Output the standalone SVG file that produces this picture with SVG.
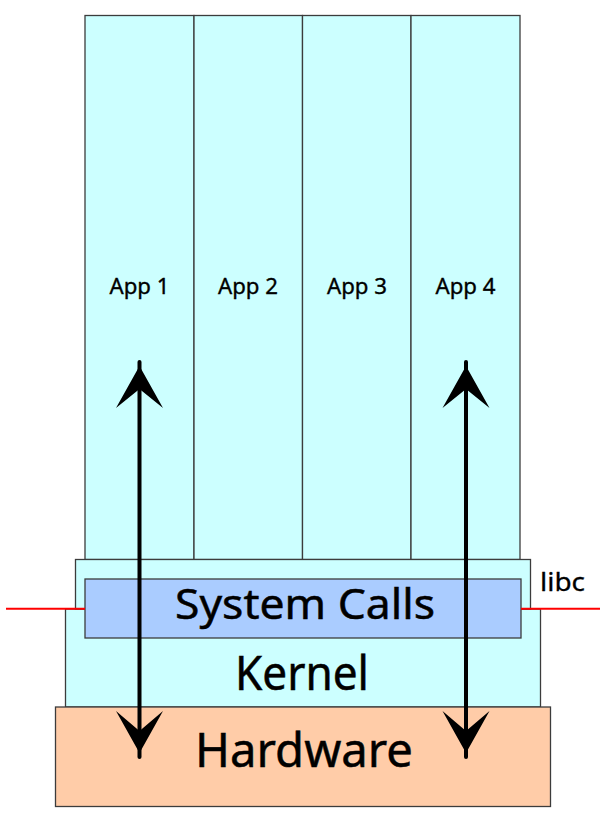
<svg xmlns="http://www.w3.org/2000/svg" width="600" height="819" viewBox="0 0 600 819">
<style>
.box{stroke:#3c3c3c;stroke-width:1.3}
.cyan{fill:#ccffff}
.lbl{font-family:"Noto Sans","Open Sans","DejaVu Sans",sans-serif;fill:#000;text-anchor:middle;stroke:#000;stroke-width:0.35}
.app{font-size:21.5px}
.big{stroke-width:0.5}
.red{stroke:#ff0000;stroke-width:2}
.arr{stroke:#000;stroke-width:4;stroke-linecap:round;fill:none}
.head{fill:#000}
</style>
<rect width="600" height="819" fill="#ffffff"/>
<g id="app1"><rect class="box cyan" x="85" y="15.5" width="109" height="544"/><text class="lbl app" x="139.5" y="293.5" textLength="60" lengthAdjust="spacingAndGlyphs">App 1</text></g>
<g id="app2"><rect class="box cyan" x="194" y="15.5" width="108.5" height="544"/><text class="lbl app" x="248" y="293.5" textLength="60" lengthAdjust="spacingAndGlyphs">App 2</text></g>
<g id="app3"><rect class="box cyan" x="302.5" y="15.5" width="108.5" height="544"/><text class="lbl app" x="357" y="293.5" textLength="60" lengthAdjust="spacingAndGlyphs">App 3</text></g>
<g id="app4"><rect class="box cyan" x="411" y="15.5" width="109" height="544"/><text class="lbl app" x="465.5" y="293.5" textLength="60" lengthAdjust="spacingAndGlyphs">App 4</text></g>
<g id="kernel"><rect class="box cyan" x="65.5" y="609" width="475" height="98"/><text class="lbl big" style="font-size:48px" x="302" y="689.5" textLength="134" lengthAdjust="spacingAndGlyphs">Kernel</text></g>
<g id="libc"><rect class="box cyan" x="75.5" y="559.5" width="455" height="49.5"/><text class="lbl" style="font-size:26px;text-anchor:start;stroke-width:0.3" x="540" y="590.7" textLength="45" lengthAdjust="spacingAndGlyphs">libc</text></g>
<g id="syscalls"><rect class="box" fill="#aaccff" x="85" y="579" width="436" height="59"/><text class="lbl big" style="font-size:42px" x="305" y="619" textLength="260" lengthAdjust="spacingAndGlyphs">System Calls</text></g>
<g id="hardware"><rect class="box" fill="#ffcca8" x="55.5" y="707" width="495" height="99.5"/><text class="lbl big" style="font-size:47px" x="304" y="767" textLength="218" lengthAdjust="spacingAndGlyphs">Hardware</text></g>
<g id="connectors">
<line class="red" x1="6" y1="608.7" x2="85" y2="608.7"/>
<line class="red" x1="521" y1="608.7" x2="600" y2="608.7"/>
<line class="arr" x1="139.5" y1="362" x2="139.5" y2="757"/>
<path class="head" d="M139.5,366 L163,408 L139.5,389 L116,408 Z"/>
<path class="head" d="M139.5,753 L163,711 L139.5,731 L116,711 Z"/>
<line class="arr" x1="466" y1="362" x2="466" y2="757"/>
<path class="head" d="M466,366 L489.5,408 L466,389 L442.5,408 Z"/>
<path class="head" d="M466,753 L489.5,711 L466,731 L442.5,711 Z"/>
</g>
</svg>
